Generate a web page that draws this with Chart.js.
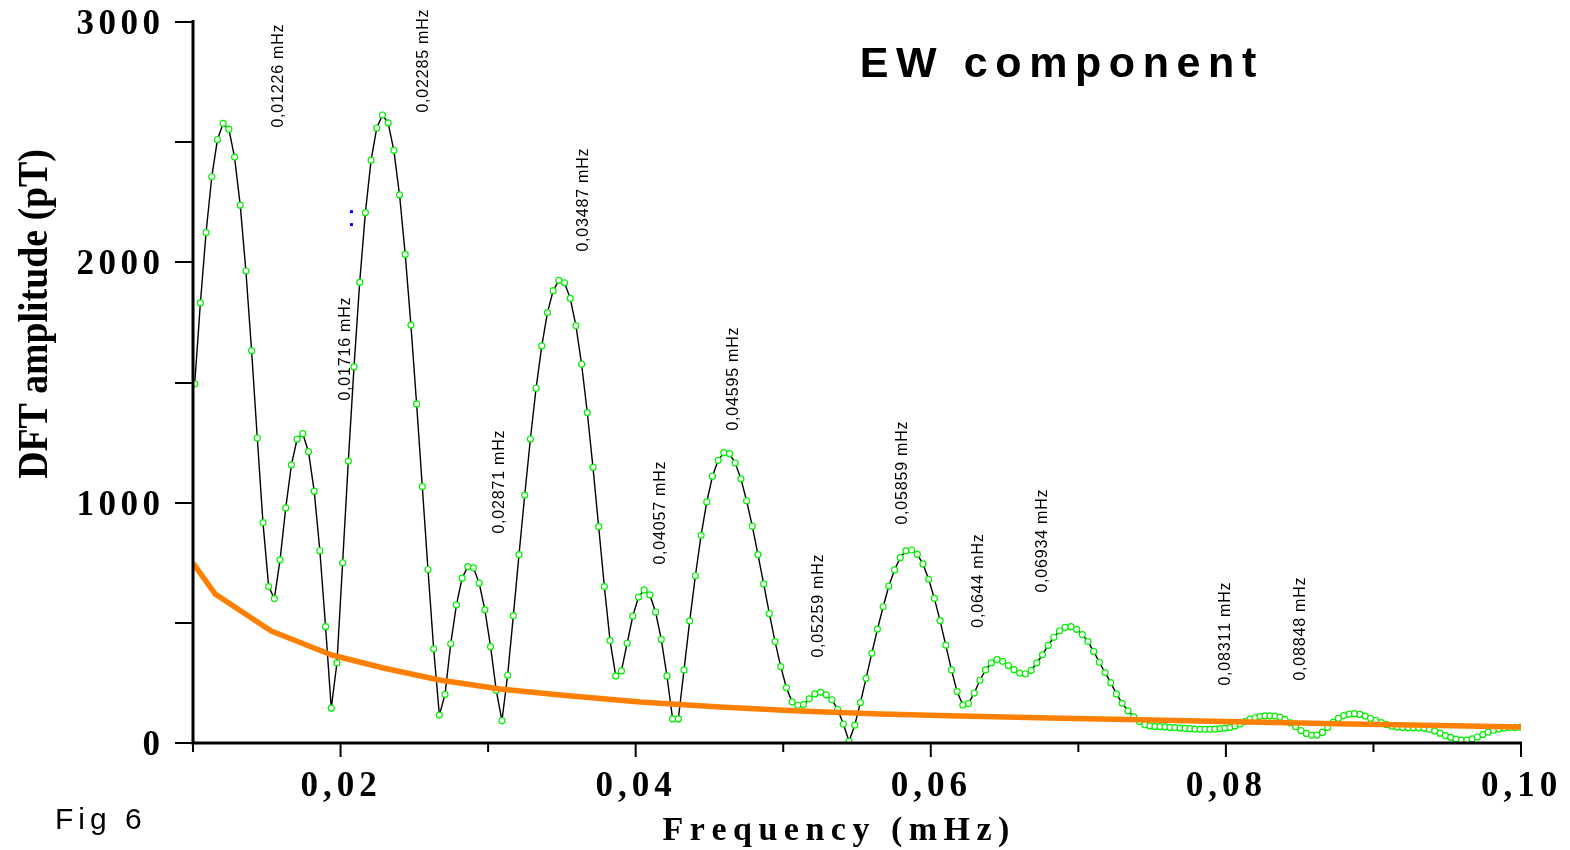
<!DOCTYPE html>
<html>
<head>
<meta charset="utf-8">
<script src="https://cdn.jsdelivr.net/npm/chart.js@4.4.1/dist/chart.umd.min.js"></script>
<style>
  html, body { margin: 0; padding: 0; background: #fff; }
  canvas { display: block; }
</style>
</head>
<body>
<canvas id="chart" width="1570" height="850"></canvas>
<script>
// DFT frequencies (mHz) of the EW spectrum samples
const freq = [
  0.010115, 0.010501, 0.010886, 0.011272, 0.011657, 0.012043, 0.012429, 0.012814, 0.013200, 0.013585,
  0.013971, 0.014357, 0.014742, 0.015128, 0.015513, 0.015899, 0.016285, 0.016670, 0.017056, 0.017441,
  0.017827, 0.018213, 0.018598, 0.018984, 0.019369, 0.019755, 0.020141, 0.020526, 0.020912, 0.021297,
  0.021683, 0.022069, 0.022454, 0.022840, 0.023225, 0.023611, 0.023997, 0.024382, 0.024768, 0.025153,
  0.025539, 0.025925, 0.026310, 0.026696, 0.027081, 0.027467, 0.027853, 0.028238, 0.028624, 0.029009,
  0.029395, 0.029781, 0.030166, 0.030552, 0.030937, 0.031323, 0.031709, 0.032094, 0.032480, 0.032865,
  0.033251, 0.033637, 0.034022, 0.034408, 0.034793, 0.035179, 0.035565, 0.035950, 0.036336, 0.036721,
  0.037107, 0.037493, 0.037878, 0.038264, 0.038649, 0.039035, 0.039421, 0.039806, 0.040192, 0.040577,
  0.040963, 0.041349, 0.041734, 0.042120, 0.042505, 0.042891, 0.043277, 0.043662, 0.044048, 0.044433,
  0.044819, 0.045205, 0.045590, 0.045976, 0.046361, 0.046747, 0.047133, 0.047518, 0.047904, 0.048289,
  0.048675, 0.049061, 0.049446, 0.049832, 0.050217, 0.050603, 0.050989, 0.051374, 0.051760, 0.052145,
  0.052531, 0.052917, 0.053302, 0.053688, 0.054073, 0.054459, 0.054845, 0.055230, 0.055616, 0.056001,
  0.056387, 0.056773, 0.057158, 0.057544, 0.057929, 0.058315, 0.058701, 0.059086, 0.059472, 0.059857,
  0.060243, 0.060629, 0.061014, 0.061400, 0.061785, 0.062171, 0.062557, 0.062942, 0.063328, 0.063713,
  0.064099, 0.064485, 0.064870, 0.065256, 0.065641, 0.066027, 0.066413, 0.066798, 0.067184, 0.067569,
  0.067955, 0.068341, 0.068726, 0.069112, 0.069497, 0.069883, 0.070269, 0.070654, 0.071040, 0.071425,
  0.071811, 0.072197, 0.072582,
  0.072971, 0.073364, 0.073757, 0.074137, 0.074503, 0.074855, 0.075194, 0.075533, 0.075872, 0.076211,
  0.076550, 0.076889, 0.077228, 0.077567, 0.077905, 0.078244, 0.078583, 0.078922, 0.079261, 0.079600,
  0.079939, 0.080278, 0.080617, 0.080956, 0.081295, 0.081634, 0.081973, 0.082311, 0.082650, 0.082989,
  0.083328, 0.083667, 0.084006,
  0.084363, 0.084726, 0.085088, 0.085451, 0.085813, 0.086176, 0.086539, 0.086901, 0.087264, 0.087626,
  0.087989, 0.088351, 0.088714, 0.089077, 0.089439, 0.089802, 0.090164, 0.090527, 0.090889, 0.091252,
  0.091614, 0.091977, 0.092340, 0.092702, 0.093065, 0.093427, 0.093790, 0.094152, 0.094515, 0.094877,
  0.095240, 0.095603, 0.095965, 0.096328, 0.096690, 0.097053, 0.097415, 0.097778, 0.098141, 0.098503,
  0.098866, 0.099228, 0.099591, 0.099953
];

// DFT amplitude (pT) at each frequency
const amp = [
  1494, 1831, 2124, 2356, 2511, 2578, 2554, 2438, 2238, 1964,
  1632, 1269, 917, 651, 601, 762, 978, 1157, 1264, 1287,
  1212, 1048, 800, 484, 145, 333, 750, 1173, 1565, 1917,
  2207, 2425, 2559, 2613, 2580, 2466, 2281, 2033, 1739, 1411,
  1067, 722, 392, 116, 202, 413, 575, 686, 734, 729,
  665, 554, 401, 219, 93, 282, 529, 784, 1031, 1265,
  1476, 1652, 1791, 1882, 1925, 1915, 1850, 1737, 1576, 1375,
  1147, 900, 651, 426, 279, 300, 415, 528, 607, 637,
  616, 545, 431, 279, 100, 100, 304, 508, 696, 864,
  1003, 1110, 1176, 1208, 1204, 1165, 1099, 1008, 902, 784,
  662, 538, 422, 318, 230, 171, 157, 160, 184, 204,
  211, 200, 180, 140, 79, 7, 74, 168, 269, 373,
  474, 567, 653, 720, 771, 799, 803, 785, 745, 681,
  602, 509, 407, 304, 214, 158, 164, 208, 261, 304,
  333, 347, 340, 322, 305, 291, 287, 302, 333, 367,
  406, 440, 467, 481, 484, 473, 451, 422, 381, 336,
  293, 251, 204,
  165, 134, 109, 89, 76, 71, 69, 68, 67, 65,
  64, 62, 61, 60, 58, 57, 57, 57, 58, 60,
  62, 65, 71, 79, 89, 99, 105, 110, 113, 113,
  112, 107, 98,
  84, 68, 52, 40, 32, 33, 44, 64, 86, 103,
  114, 120, 122, 119, 112, 103, 94, 85, 77, 70,
  66, 64, 63, 63, 63, 61, 57, 50, 41, 31,
  23, 16, 12, 12, 17, 25, 35, 45, 53, 58,
  62, 64, 65, 66
];

// Noise level curve
const noiseFreq = [0.0100, 0.0115, 0.0153, 0.0194, 0.0229, 0.0267, 0.0308, 0.0349, 0.0403, 0.0457,
                   0.0511, 0.0566, 0.0620, 0.0681, 0.0749, 0.0816, 0.0884, 0.0945, 0.1000];
const noiseAmp  = [749, 620, 466, 366, 312, 262, 225, 200, 171, 150,
                   133, 121, 112, 104, 96, 87, 79, 73, 67];

// Two small blue marks
const markFreq = [0.02074, 0.02074];
const markAmp  = [2211, 2157];

// Peak frequency annotations
const peakLabels = ['0,01226 mHz', '0,02285 mHz', '0,01716 mHz', '0,03487 mHz', '0,02871 mHz',
                    '0,04057 mHz', '0,04595 mHz', '0,05259 mHz', '0,05859 mHz', '0,0644 mHz',
                    '0,06934 mHz', '0,08311 mHz', '0,08848 mHz'];

// Axis ticks
const xTickValues = [0.01, 0.02, 0.03, 0.04, 0.05, 0.06, 0.07, 0.08, 0.09, 0.10];
const xLabelValues = [0.02, 0.04, 0.06, 0.08, 0.10];
const xLabelText = ['0,02', '0,04', '0,06', '0,08', '0,10'];
const yTickValues = [0, 500, 1000, 1500, 2000, 2500, 3000];
const yLabelValues = [0, 1000, 2000, 3000];
const yLabelText = ['0', '1000', '2000', '3000'];

const titleText = 'EW component';
const xTitle = 'Frequency (mHz)';
const yTitle = 'DFT amplitude (pT)';
const figText = 'Fig 6';

// Layout of the vertical annotation texts (canvas px: centre x, centre y)
const peakLabelPos = [
  [277, 76], [422, 61], [344, 349], [582, 200], [498, 482],
  [659, 513], [732, 379], [817, 606], [901, 473], [977, 581],
  [1041, 541], [1224, 634], [1299, 629]
];

function drawSpaced(ctx, text, x, y, sp, align) {
  const chars = Array.from(text);
  const widths = chars.map(c => ctx.measureText(c).width);
  const total = widths.reduce((a, b) => a + b, 0) + sp * (chars.length - 1);
  let cx = align === 'center' ? x - total / 2 : (align === 'right' ? x - total : x);
  ctx.textAlign = 'left';
  chars.forEach((c, i) => { ctx.fillText(c, cx, y); cx += widths[i] + sp; });
}

const framePlugin = {
  id: 'frame',
  beforeDraw(chart) {
    const ctx = chart.ctx;
    ctx.save();
    ctx.fillStyle = '#fff';
    ctx.fillRect(0, 0, chart.width, chart.height);
    ctx.restore();
  },
  afterDatasetsDraw(chart) {
    const ctx = chart.ctx;
    const xs = chart.scales.x, ys = chart.scales.y;
    const a = chart.chartArea;
    ctx.save();
    ctx.fillStyle = '#000';
    ctx.strokeStyle = '#000';

    // y ticks
    ctx.lineWidth = 2;
    yTickValues.forEach(v => {
      const py = Math.round(ys.getPixelForValue(v));
      ctx.beginPath(); ctx.moveTo(a.left - 18, py); ctx.lineTo(a.left, py); ctx.stroke();
    });
    // x ticks
    xTickValues.forEach(v => {
      const px = xs.getPixelForValue(v);
      const major = xLabelValues.some(m => Math.abs(m - v) < 1e-9);
      ctx.beginPath(); ctx.moveTo(px, a.bottom); ctx.lineTo(px, a.bottom + (major ? 14 : 9)); ctx.stroke();
    });
    // axis lines
    ctx.lineWidth = 3;
    ctx.beginPath(); ctx.moveTo(a.left, a.top - 2); ctx.lineTo(a.left, a.bottom + 1.5); ctx.stroke();
    ctx.beginPath(); ctx.moveTo(a.left - 1.5, a.bottom); ctx.lineTo(a.right + 1, a.bottom); ctx.stroke();

    // tick labels
    ctx.font = 'bold 35px "Liberation Serif"';
    ctx.textBaseline = 'alphabetic';
    xLabelValues.forEach((v, i) => {
      drawSpaced(ctx, xLabelText[i], xs.getPixelForValue(v) - 2, 796, 5, 'center');
    });
    yLabelValues.forEach((v, i) => {
      drawSpaced(ctx, yLabelText[i], 160, ys.getPixelForValue(v) + 12, 4.5, 'right');
    });

    // axis titles
    ctx.font = 'bold 34px "Liberation Serif"';
    drawSpaced(ctx, xTitle, 836, 840, 6.5, 'center');
    ctx.save();
    ctx.translate(47, 314);
    ctx.rotate(-Math.PI / 2);
    ctx.scale(0.9, 1);
    ctx.font = 'bold 42px "Liberation Serif"';
    ctx.textAlign = 'center';
    ctx.fillText(yTitle, 0, 0);
    ctx.restore();

    // chart title
    ctx.font = 'bold 43px "Liberation Sans"';
    drawSpaced(ctx, titleText, 1058, 77, 7.6, 'center');

    // figure number
    ctx.font = '30px "Liberation Sans"';
    drawSpaced(ctx, figText, 55, 829, 5, 'left');

    // peak annotations
    ctx.font = '16px "Liberation Sans"';
    peakLabels.forEach((t, i) => {
      const [cx, cy] = peakLabelPos[i];
      ctx.save();
      ctx.translate(cx + 6, cy);
      ctx.rotate(-Math.PI / 2);
      drawSpaced(ctx, t, 0, 0, 0.8, 'center');
      ctx.restore();
    });
    ctx.restore();
  }
};

new Chart(document.getElementById('chart').getContext('2d'), {
  type: 'line',
  data: {
    datasets: [
      {
        label: 'noise',
        data: noiseFreq.map((f, i) => ({ x: f, y: noiseAmp[i] })),
        borderColor: '#ff8000',
        borderWidth: 5.5,
        pointRadius: 0,
        tension: 0,
        borderJoinStyle: 'round',
        order: 0
      },
      {
        label: 'EW',
        data: freq.map((f, i) => ({ x: f, y: amp[i] })),
        borderColor: '#000',
        borderWidth: 1.4,
        pointRadius: 3,
        pointBorderWidth: 1.2,
        pointBorderColor: '#00f000',
        pointBackgroundColor: '#fff',
        tension: 0,
        order: 1
      },
      {
        label: 'marks',
        data: markFreq.map((f, i) => ({ x: f, y: markAmp[i] })),
        showLine: false,
        pointStyle: 'rect',
        pointRadius: 2.1,
        pointBorderWidth: 0,
        pointBackgroundColor: '#0000ff',
        order: 2
      }
    ]
  },
  options: {
    responsive: false,
    devicePixelRatio: 1,
    animation: false,
    events: [],
    layout: { padding: { left: 193, top: 22, right: 49, bottom: 107 } },
    scales: {
      x: { type: 'linear', min: 0.01, max: 0.10, display: false },
      y: { type: 'linear', min: 0, max: 3000, display: false }
    },
    plugins: { legend: { display: false }, tooltip: { enabled: false } }
  },
  plugins: [framePlugin]
});
</script>
</body>
</html>
